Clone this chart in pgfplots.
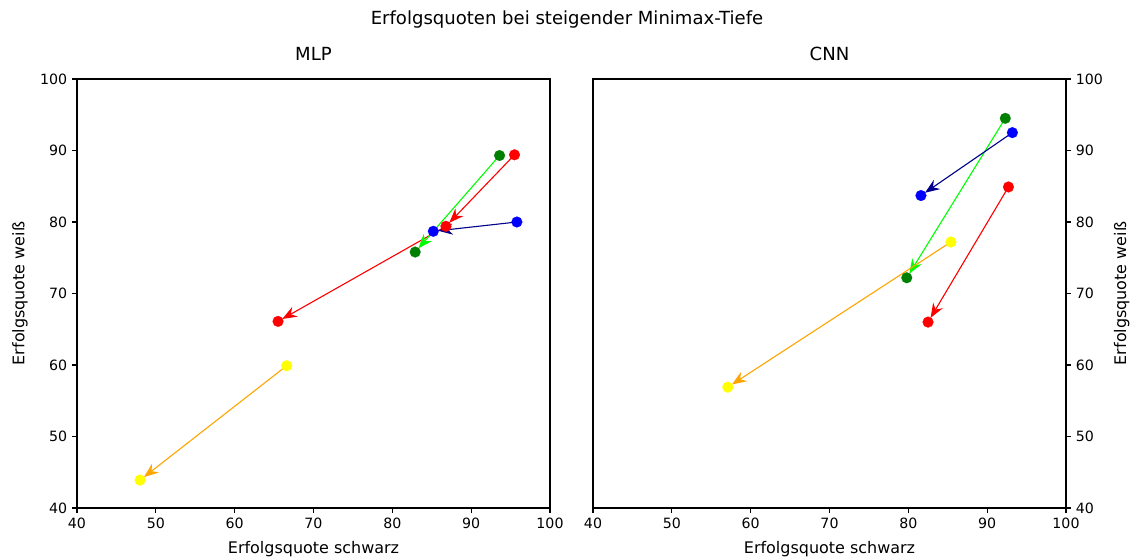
\documentclass[border=0pt]{standalone}
\usepackage{pgfplots}
\pgfplotsset{compat=1.18}
\usepackage{fontspec}
\setmainfont{DejaVu Sans}
\usetikzlibrary{arrows.meta}
\definecolor{mplgreen}{rgb}{0,0.5,0}
\definecolor{limec}{rgb}{0,1,0}
\definecolor{darkbluec}{rgb}{0,0,0.545}
\definecolor{orangec}{rgb}{1,0.647,0}
\definecolor{yellowc}{rgb}{1,1,0}

\pgfplotsset{
  myax/.style={
    scale only axis, width=340.56pt, height=308.88pt,
    xmin=40, xmax=100, ymin=40, ymax=100,
    xtick={40,50,...,100}, ytick={40,50,...,100},
    tick align=outside, major tick length=3.5pt,
    tick style={black, line width=0.8pt},
    axis line style={line width=0.8pt},
    tick label style={font=\fontsize{10.2}{12}\selectfont},
    /pgf/number format/assume math mode=true,
    label style={font=\fontsize{11.5}{13}\selectfont},
    title style={font=\fontsize{13}{15}\selectfont, at={(axis description cs:0.5,1)}, anchor=base, yshift=7.2pt},
    xlabel={Erfolgsquote schwarz},
    ylabel={Erfolgsquote weiß},
    xlabel style={at={(axis description cs:0.5,0)}, anchor=base, yshift=-33.1pt},
    xtick pos=bottom,
    clip=false,
  },
  dot/.style={only marks, mark=*, mark size=3.9pt, mark options={draw=#1, fill=#1, line width=0.1pt}},
  arr/.style={draw=#1, line width=0.8pt, -{Stealth[length=10.5pt, width=8pt, inset=3.5pt]}, shorten >=3.5pt},
}

\begin{document}
\begin{tikzpicture}
\useasboundingbox (0,0) rectangle (816.48pt,403.2pt);
\node[anchor=base, inner sep=0pt, font=\fontsize{13}{15}\selectfont] at (408.24pt,385.2pt) {Erfolgsquoten bei steigender Minimax-Tiefe};

\begin{axis}[myax, at={(55.44pt,37.44pt)}, anchor=south west,
  title={MLP}, ytick pos=left,
  ylabel style={at={(axis description cs:0,0.5)}, anchor=base, yshift=37.8pt}]
  % dots
  \addplot[dot=red] coordinates {(95.5,89.4) (86.8,79.4) (65.5,66.1)};
  \addplot[dot=mplgreen] coordinates {(93.6,89.3) (82.9,75.8)};
  \addplot[dot=blue] coordinates {(95.8,80.0) (85.2,78.7)};
  \addplot[dot=yellowc] coordinates {(66.6,59.9) (48.0,43.9)};
  % arrows
  \addplot[arr=red] coordinates {(95.5,89.4) (86.8,79.4)};
  \addplot[arr=red] coordinates {(86.8,79.4) (65.5,66.1)};
  \addplot[arr=limec] coordinates {(93.6,89.3) (82.9,75.8)};
  \addplot[arr=darkbluec] coordinates {(95.8,80.0) (85.2,78.7)};
  \addplot[arr=orangec] coordinates {(66.6,59.9) (48.0,43.9)};
\end{axis}

\begin{axis}[myax, at={(426.96pt,37.44pt)}, anchor=south west,
  title={CNN}, ytick pos=right, yticklabel pos=right,
  ylabel style={at={(axis description cs:1,0.5)}, anchor=base, yshift=-43.2pt}]
  \addplot[dot=mplgreen] coordinates {(92.3,94.5) (79.8,72.2)};
  \addplot[dot=blue] coordinates {(93.2,92.5) (81.6,83.7)};
  \addplot[dot=red] coordinates {(92.7,84.9) (82.5,66.0)};
  \addplot[dot=yellowc] coordinates {(85.4,77.2) (57.1,56.9)};
  \addplot[arr=limec] coordinates {(92.3,94.5) (79.8,72.2)};
  \addplot[arr=darkbluec] coordinates {(93.2,92.5) (81.6,83.7)};
  \addplot[arr=red] coordinates {(92.7,84.9) (82.5,66.0)};
  \addplot[arr=orangec] coordinates {(85.4,77.2) (57.1,56.9)};
\end{axis}
\end{tikzpicture}
\end{document}
